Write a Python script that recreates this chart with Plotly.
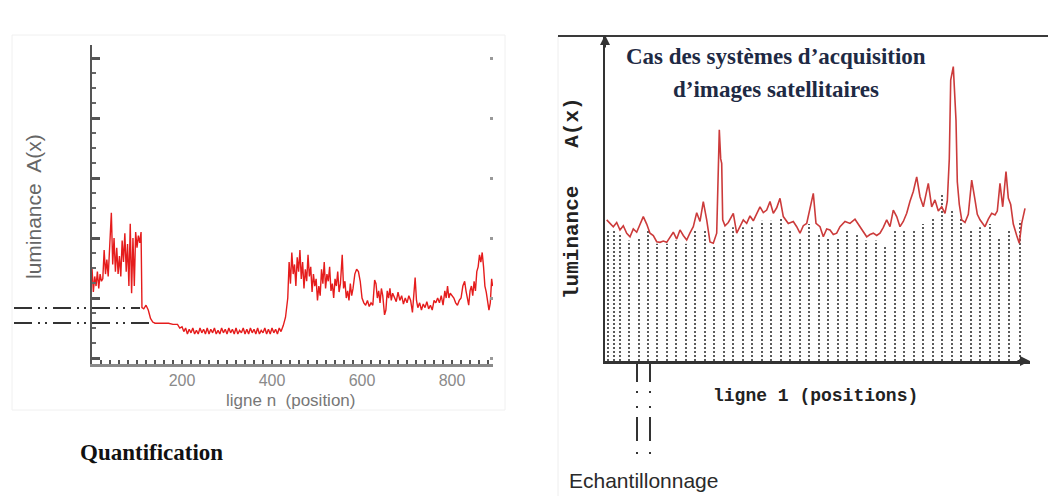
import plotly.graph_objects as go

W, H = 1051, 496

# ---------------- Left panel data (Quantification) ----------------
left_head_x = [0, 3, 6, 9, 12, 15, 18, 21, 24, 27, 30, 33, 36,
               40, 43, 46, 49, 52, 55, 58, 61, 64, 67, 70, 73, 76, 79, 82, 85, 88, 91, 94, 97, 100, 103, 106, 109,
               111, 115, 120, 125, 130, 135, 140, 150, 160, 170, 180, 190, 195]
left_head_y = [75, 55, 68, 60, 72, 58, 70, 64, 66, 90, 70, 82, 68,
               95, 121, 78, 100, 72, 92, 70, 85, 68, 98, 80, 104, 72, 95, 60, 112, 54, 100, 60, 105, 92, 102, 96, 105,
               42, 41, 44, 40, 33, 30, 29, 29, 29, 29, 28, 28, 25]

left_band_x = [200, 204, 208, 212, 216, 220, 224, 228, 232, 236, 240, 244, 248, 252, 256, 260, 264, 268, 272,
               276, 280, 284, 288, 292, 296, 300, 304, 308, 312, 316, 320, 324, 328, 332, 336, 340, 344, 348,
               352, 356, 360, 364, 368, 372, 376, 380, 384, 388, 392, 396, 400, 404, 408, 412, 416, 420]
left_band_y = [26, 22, 25, 20, 24, 21, 25, 20, 23, 20, 25, 21, 24, 20, 25, 20, 24, 21, 25,
               20, 23, 20, 25, 21, 24, 20, 25, 21, 24, 20, 25, 20, 23, 21, 25, 20, 24, 20,
               25, 21, 24, 20, 25, 20, 23, 21, 25, 20, 24, 20, 25, 21, 24, 20, 25, 22]

left_tail = [(425, 27), (430, 34), (435, 50), (438, 80), (441, 62), (444, 88), (447, 70), (450, 78), (453, 60),
             (456, 84), (459, 72), (462, 90), (465, 66), (468, 80), (471, 58), (474, 74), (477, 64), (480, 86),
             (483, 68), (486, 76), (489, 55), (492, 70), (495, 60), (498, 66), (501, 48), (504, 60), (507, 52),
             (510, 74), (513, 62), (516, 80), (519, 58), (522, 70), (525, 64), (528, 76), (531, 56), (534, 62),
             (537, 50), (540, 66), (543, 60), (546, 72), (549, 55), (552, 62), (556, 86), (559, 58), (562, 64),
             (565, 50), (568, 56), (571, 48), (574, 62), (577, 52), (580, 58), (584, 70), (588, 74), (592, 72),
             (596, 64), (600, 50), (604, 46), (608, 44), (612, 48), (616, 43), (620, 46), (624, 44), (628, 65),
             (631, 62), (634, 50), (637, 56), (640, 46), (643, 58), (646, 52), (650, 36), (653, 40), (656, 56),
             (659, 50), (662, 58), (665, 48), (668, 54), (672, 50), (676, 47), (680, 55), (684, 48), (688, 52),
             (692, 45), (696, 50), (700, 46), (704, 52), (708, 48), (712, 38), (715, 58), (718, 67), (721, 48),
             (724, 42), (728, 46), (732, 40), (736, 45), (740, 42), (744, 47), (748, 41), (752, 44), (756, 40),
             (760, 48), (764, 46), (768, 50), (772, 46), (776, 52), (780, 44), (784, 56), (787, 50), (790, 60),
             (793, 50), (796, 54), (800, 52), (804, 50), (808, 46), (812, 44), (816, 48), (820, 50), (824, 60),
             (828, 64), (831, 56), (834, 50), (837, 44), (840, 56), (843, 60), (846, 52), (849, 64), (852, 56),
             (855, 72), (858, 76), (861, 86), (864, 80), (867, 88), (870, 76), (873, 60), (876, 55), (879, 48),
             (882, 40), (885, 46), (888, 66), (890, 60)]

quant_levels = [41.7, 29.2]
left_xticks = [200, 400, 600, 800]
left_yticks = [0, 50, 100, 150, 200, 250]

# ---------------- Right panel data (Echantillonnage) ----------------
right_signal = [(1.7, 43.3), (5, 42.2), (8.3, 41.2), (11.7, 42.5), (15, 40.2), (18.3, 41.5), (21.7, 39.2),
                (25, 38.1), (28.3, 40.5), (31.7, 39.5), (35, 42.2), (38.3, 44.3), (41.7, 42), (45, 39.2),
                (48.3, 38.5), (51.7, 36.6), (55, 36.4), (58.3, 36.8), (61.7, 36.4), (65, 38), (68.3, 39.5),
                (71.7, 37.4), (75, 40.2), (78.3, 38.5), (81.7, 37.1), (85, 39.3), (88.3, 41.2), (91.7, 45.5),
                (95, 42.8), (98.3, 48.9), (101.7, 43.3), (105, 36.5), (108.3, 36.1), (111.7, 39.2), (113.3, 55),
                (114.3, 70.9), (115.7, 62), (116.7, 60.6), (117.7, 43.3), (120, 41.5), (123.3, 42.5),
                (128.3, 45.3), (131.7, 39.2), (135, 41.5), (138.3, 43.3), (141.7, 42.2), (145, 44.5),
                (148.3, 43), (151.7, 45), (155, 47.3), (158.3, 45.5), (161.7, 46.3), (165, 48.9), (168.3, 45.3),
                (171.7, 47), (175, 49.9), (178.3, 44.3), (183.3, 42.2), (188.3, 42.8), (191.7, 41.2),
                (195, 39.2), (198.3, 41.5), (201.7, 42.2), (205, 47.3), (208.3, 51.4), (211, 42.2), (215, 41.2),
                (218.3, 38.1), (221.7, 40.5), (225, 40.2), (228.3, 38.8), (231.7, 39.2), (235, 41.2),
                (240, 42.8), (245, 42.2), (250, 43.5), (255, 41.2), (258.3, 40), (261.7, 38.1), (265, 38.8),
                (268.3, 39.2), (271.7, 38.5), (275, 39.2), (278.3, 41), (281.7, 43.3), (285, 41.2),
                (288.3, 46.3), (291.7, 44.3), (295, 41.2), (298.3, 42.8), (301.7, 45.3), (305, 49), (308.3, 52),
                (311.7, 56.5), (315, 50.4), (318.3, 47.3), (321, 51), (323.3, 54.5), (326.7, 47.3), (330, 49.4),
                (333.3, 46), (336.7, 47.3), (340, 45.3), (342.3, 49), (344.3, 62), (345.7, 86.2), (348.3, 90.3),
                (350, 82), (351, 73.9), (352.3, 55), (354.3, 48), (356.7, 43.3), (360, 42.5), (363.3, 45),
                (366.7, 55.5), (370, 49.4), (372.3, 45), (375, 43.3), (377.7, 42.2), (380, 41.2), (383.3, 43.5),
                (386.7, 45.3), (390, 44.8), (392.3, 46), (395, 54.5), (397.7, 47.3), (401, 58.1), (403.3, 50),
                (405.7, 48), (408.3, 42), (411.7, 38.5), (414.3, 36.1), (416.7, 42.2), (420, 46.8)]

sample_x = [3, 9, 15, 24, 34, 43, 52, 62, 71, 81, 90, 100, 109, 119, 128, 138, 147, 157, 166, 176, 185, 195,
            204, 214, 223, 233, 242, 252, 261, 271, 280, 290, 299, 309, 318, 328, 337, 347, 356, 366, 375, 385,
            394, 404, 415]
sample_y = [40, 40, 39, 37, 38, 40, 36, 36, 37, 36, 40, 40, 35, 40, 41, 41, 41, 43, 43, 44, 40, 38,
            42, 39, 38, 38, 40, 39, 37, 37, 35, 40, 40, 40, 42, 44, 51, 46, 44, 40, 41, 42,
            38, 40, 43]
sampling_marks_x = [32, 45]


def px_x(p):
    return p / W


def px_y(p):
    return 1 - p / H


left_x = left_head_x + left_band_x + [p[0] for p in left_tail]
left_y = left_head_y + left_band_y + [p[1] for p in left_tail]
right_x = [p[0] for p in right_signal]
right_y = [p[1] for p in right_signal]

stem_x, stem_y = [], []
for sx, sy in zip(sample_x, sample_y):
    stem_x += [sx, sx, None]
    stem_y += [0, sy, None]

fig = go.Figure()

fig.add_trace(go.Scatter(x=left_x, y=left_y, mode="lines", xaxis="x", yaxis="y",
                         line=dict(color="#e51c1c", width=1.4), hoverinfo="skip"))
fig.add_trace(go.Scatter(x=[], y=[], xaxis="x", yaxis="y3", hoverinfo="skip"))
fig.add_trace(go.Scatter(x=stem_x, y=stem_y, mode="lines", xaxis="x2", yaxis="y2",
                         line=dict(color="#333", width=1.6, dash="2px,2px"), hoverinfo="skip"))
fig.add_trace(go.Scatter(x=right_x, y=right_y, mode="lines", xaxis="x2", yaxis="y2",
                         line=dict(color="#cc3b3b", width=1.6), hoverinfo="skip"))

shapes = []
# faint frames
shapes.append(dict(type="rect", xref="paper", yref="paper", x0=px_x(12), x1=px_x(505), y0=px_y(410), y1=px_y(35),
                   line=dict(color="#f0f0f0", width=1)))
shapes.append(dict(type="line", xref="paper", yref="paper", x0=px_x(558), x1=px_x(558), y0=px_y(36), y1=0,
                   line=dict(color="#eeeeee", width=1)))
# top line of right panel
shapes.append(dict(type="line", xref="paper", yref="paper", x0=px_x(558), x1=px_x(1048), y0=px_y(36), y1=px_y(36),
                   line=dict(color="#3a3a3a", width=2)))
# quantification dash-dot levels
for lv, xend in zip(quant_levels, [140, 150]):
    shapes.append(dict(type="line", xref="paper", yref="y", x0=px_x(14), x1=px_x(xend), y0=lv, y1=lv,
                       line=dict(color="#333", width=2, dash="18px,6px,2px,5px,2px,6px")))
# sampling marks below the axis
for mx in sampling_marks_x:
    shapes.append(dict(type="line", xref="x2", yref="paper", x0=mx, x1=mx, y0=px_y(362), y1=px_y(455),
                       line=dict(color="#333", width=2,
                                 dash="20px,9px,2px,13px,2px,9px,24px,11px,2px,20px")))
fig.update_layout(shapes=shapes)


def label(x, y, text, font, angle=0):
    return dict(xref="paper", yref="paper", x=px_x(x), y=px_y(y), text=text, textangle=angle,
                xanchor="center", yanchor="middle", showarrow=False, font=font)


ann = [
    label(33, 207, "luminance  A(x)", dict(family="Liberation Sans, Arial", size=21, color="#666"), -90),
    label(290, 400, "ligne n  (position)", dict(family="Liberation Sans, Arial", size=17, color="#777")),
    label(151, 452, "<b>Quantification</b>", dict(family="Liberation Serif, Times New Roman", size=23, color="#111")),
    label(776, 57, "<b>Cas des systèmes d’acquisition</b>",
          dict(family="Liberation Serif, Times New Roman", size=23, color="#1e2a44")),
    label(776, 90, "<b>d’images satellitaires</b>",
          dict(family="Liberation Serif, Times New Roman", size=23, color="#1e2a44")),
    label(572, 198, "<b>luminance   A(x)</b>", dict(family="Liberation Mono, Courier New", size=21, color="#222"), -90),
    label(815, 396, "<b>ligne 1 (positions)</b>", dict(family="Liberation Mono, Courier New", size=18, color="#222")),
    label(643, 480, "Echantillonnage",
          dict(family="Liberation Sans Narrow, Arial Narrow, Liberation Sans, sans-serif", size=21, color="#2a2a2a")),
]
# arrowheads on the right axes
ann.append(dict(xref="x2", yref="y2", x=0, y=100, ax=0, ay=14, text="", showarrow=True,
                arrowhead=2, arrowsize=1, arrowwidth=2, arrowcolor="#333"))
ann.append(dict(xref="x2", yref="y2", x=425, y=0, ax=-14, ay=0, text="", showarrow=True,
                arrowhead=2, arrowsize=1, arrowwidth=2, arrowcolor="#333"))
fig.update_layout(annotations=ann)

fig.update_layout(
    width=W, height=H, margin=dict(l=0, r=0, t=0, b=0),
    paper_bgcolor="white", plot_bgcolor="white", showlegend=False,
    xaxis=dict(domain=[px_x(92), px_x(493)], range=[0, 891], anchor="y",
               showline=True, linecolor="#8a8a8a", linewidth=3,
               ticks="inside", tickvals=left_xticks, ticklen=4, tickwidth=2, tickcolor="#555",
               minor=dict(dtick=20, tick0=0, ticks="inside", ticklen=4, tickwidth=2, tickcolor="#555"),
               showgrid=False, zeroline=False, ticklabelstandoff=0,
               tickfont=dict(family="Liberation Sans, Arial", size=16, color="#8a8a8a")),
    yaxis=dict(domain=[px_y(364), px_y(45)], range=[-5, 261], anchor="x",
               showline=True, linecolor="#555", linewidth=2,
               ticks="inside", tickvals=left_yticks, ticklen=8, tickwidth=3, tickcolor="#555",
               minor=dict(dtick=12.5, tick0=0, ticks="inside", ticklen=4, tickwidth=2, tickcolor="#666"),
               showticklabels=False, showgrid=False, zeroline=False),
    yaxis3=dict(overlaying="y", side="right", anchor="x", range=[-5, 261],
                ticks="inside", tickvals=left_yticks, ticklen=3, tickwidth=3, tickcolor="#999",
                showline=False, showticklabels=False, showgrid=False, zeroline=False),
    xaxis2=dict(domain=[px_x(605), px_x(1030)], range=[0, 425], anchor="y2",
                showline=True, linecolor="#333", linewidth=3, ticks="", showticklabels=False,
                showgrid=False, zeroline=False),
    yaxis2=dict(domain=[px_y(361), px_y(35)], range=[0, 100], anchor="x2",
                showline=True, linecolor="#333", linewidth=2, ticks="", showticklabels=False,
                showgrid=False, zeroline=False),
)

fig.write_html("out.html", config={"displayModeBar": False},
               post_script="document.body.style.margin='0';")
